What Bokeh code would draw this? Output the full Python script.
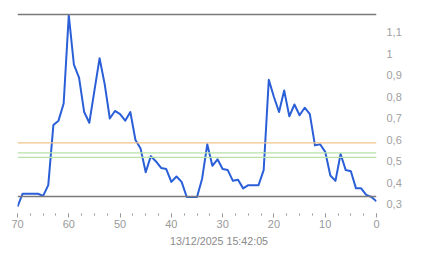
from bokeh.plotting import figure
from bokeh.models import Span, Title, SingleIntervalTicker, FixedTicker, CustomJSTickFormatter, Range1d
from bokeh.embed import file_html
from bokeh.resources import INLINE

# ---- data ----
ages = list(range(70, -1, -1))  # seconds ago, 70 .. 0
values = [
    0.29, 0.35, 0.35, 0.35, 0.35, 0.34, 0.39, 0.67, 0.69, 0.77,   # 70..61
    1.18, 0.95, 0.89, 0.73, 0.68, 0.83, 0.98, 0.86, 0.70, 0.735,  # 60..51
    0.72, 0.69, 0.73, 0.60, 0.56, 0.45, 0.525, 0.50, 0.47, 0.465, # 50..41
    0.405, 0.43, 0.405, 0.335, 0.335, 0.335, 0.42, 0.58, 0.48, 0.51, # 40..31
    0.465, 0.46, 0.41, 0.415, 0.375, 0.39, 0.39, 0.39, 0.46, 0.88,   # 30..21
    0.80, 0.73, 0.83, 0.71, 0.765, 0.715, 0.75, 0.72, 0.575, 0.58,   # 20..11
    0.545, 0.435, 0.41, 0.535, 0.46, 0.455, 0.375, 0.375, 0.345, 0.335, # 10..1
    0.315,                                                            # 0
]
gray_levels = [1.184, 0.337]
orange_levels = [0.587]
green_levels = [0.54, 0.519]
y_ticks = [0.3, 0.4, 0.5, 0.6, 0.7, 0.8, 0.9, 1.0, 1.1]
timestamp = "13/12/2025 15:42:05"

W, H = 443, 258
LEFT, RIGHT, TOP, BOTTOM = 17, 67, 10, 45
Y0, Y1 = 0.2581, 1.2023
X0, X1 = 70, 0

p = figure(width=W, height=H, output_backend="svg", toolbar_location=None,
           x_range=Range1d(X0, X1), y_range=Range1d(Y0, Y1),
           y_axis_location="right",
           min_border_left=LEFT, min_border_right=RIGHT,
           min_border_top=TOP, min_border_bottom=BOTTOM)
p.outline_line_color = None
p.xgrid.visible = False
p.ygrid.visible = False
p.background_fill_color = "white"
p.border_fill_color = "white"

for lv in gray_levels:
    p.add_layout(Span(location=lv, dimension="width", line_color="#7a7a7a", line_width=1.5))
for lv in orange_levels:
    p.add_layout(Span(location=lv, dimension="width", line_color="#f2c58a", line_width=1.2))
for lv in green_levels:
    p.add_layout(Span(location=lv, dimension="width", line_color="#b8e2a8", line_width=1.2))

p.line(ages, values, line_color="#2a5fd8", line_width=2, line_join="round")

xa = p.xaxis[0]
xa.ticker = SingleIntervalTicker(interval=10, num_minor_ticks=4)
xa.axis_line_color = None
xa.major_tick_line_color = "#999999"
xa.minor_tick_line_color = "#999999"
xa.major_tick_in = 0
xa.major_tick_out = 4
xa.minor_tick_in = 0
xa.minor_tick_out = 2
xa.major_label_standoff = 2
xa.major_label_text_font = "Liberation Sans"
xa.major_label_text_font_size = "11px"
xa.major_label_text_color = "#999999"

ya = p.yaxis[0]
ya.ticker = FixedTicker(ticks=y_ticks)
ya.formatter = CustomJSTickFormatter(code="var s = tick.toFixed(1).replace('.', ','); return s.endsWith(',0') ? s.slice(0, -2) : s;")
ya.axis_line_color = None
ya.major_tick_line_color = None
ya.minor_tick_line_color = None
ya.major_label_standoff = 4
ya.major_label_text_font = "Liberation Sans"
ya.major_label_text_font_size = "11px"
ya.major_label_text_color = "#a0a0a0"

# timestamp caption, centred on the whole figure width
p.add_layout(Title(text=timestamp, align="left", offset=W / 2 - LEFT - 52,
                   text_font="Liberation Sans", text_font_size="10.7px",
                   text_font_style="normal", text_color="#8a8a8a",
                   standoff=4), "below")

open("out.html", "w").write(file_html(p, INLINE))
